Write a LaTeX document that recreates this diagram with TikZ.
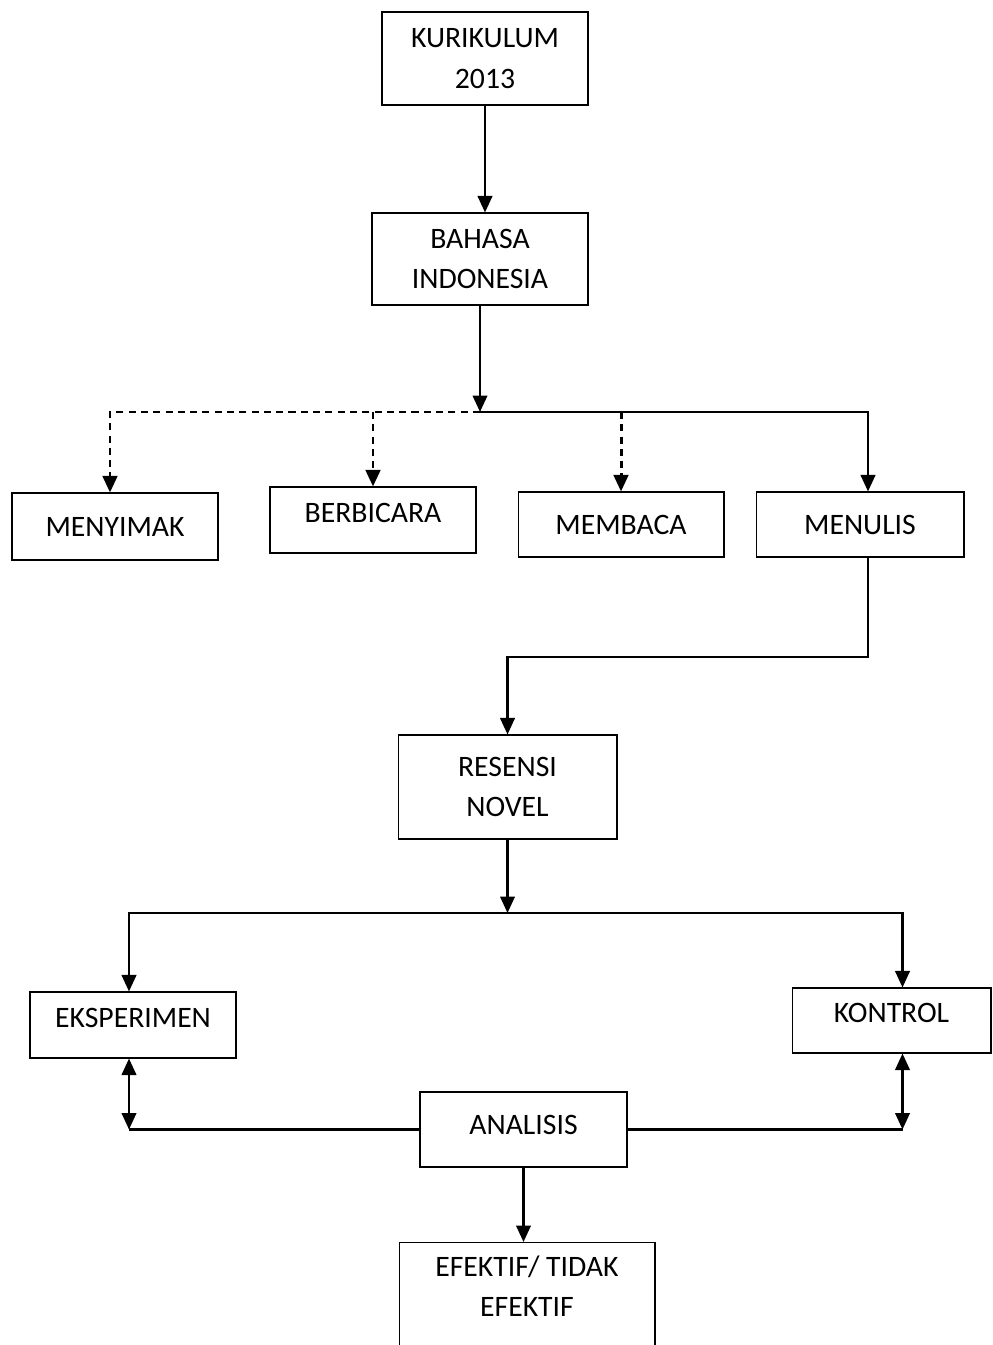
\documentclass[tikz,border=0pt]{standalone}
\usepackage{fontspec}
\setmainfont{Carlito}
\usetikzlibrary{arrows.meta,positioning}

\begin{document}
\begin{tikzpicture}[x=0.02cm,y=-0.02cm,
        every node/.style={font=\fontsize{16.9pt}{23pt}\selectfont,align=center},
        box/.style={draw,rectangle,line width=0.6pt,inner sep=0pt},
        arr/.style={line width=1.4pt,-{Triangle[length=0.33cm,width=0.29cm]}},
        dbl/.style={line width=1.4pt,{Triangle[length=0.33cm,width=0.29cm]}-{Triangle[length=0.33cm,width=0.29cm]}},
        dasharr/.style={arr,line width=1.7pt,dash pattern=on 4pt off 3pt},
        link/.style={line width=1.2pt}]
    \useasboundingbox (0,0) rectangle (992,1345);
    \node [box,minimum width=4.12cm,minimum height=1.86cm] (kurikulum) at (485,58.5) {KURIKULUM\\2013};
    \node [box,minimum width=4.32cm,minimum height=1.84cm] (bahasa) at (480,259) {BAHASA\\INDONESIA};
    \node [box,minimum width=4.12cm,minimum height=1.34cm] (menyimak) at (115,526.5) {MENYIMAK};
    \node [box,minimum width=4.12cm,minimum height=1.32cm,text depth=0.3cm] (berbicara) at (373,520) {BERBICARA};
    \node [box,minimum width=4.12cm,minimum height=1.30cm] (membaca) at (621,524.5) {MEMBACA};
    \node [box,minimum width=4.16cm,minimum height=1.30cm] (menulis) at (860,524.5) {MENULIS};
    \node [box,minimum width=4.38cm,minimum height=2.08cm] (resensi) at (507.5,787) {RESENSI\\NOVEL};
    \node [box,minimum width=4.12cm,minimum height=1.32cm,text depth=0.3cm] (eksperimen) at (133,1025) {EKSPERIMEN};
    \node [box,minimum width=3.98cm,minimum height=1.30cm,text depth=0.3cm] (kontrol) at (891.5,1020.5) {KONTROL};
    \node [box,minimum width=4.14cm,minimum height=1.50cm,text depth=0.2cm] (analisis) at (523.5,1129.5) {ANALISIS};
    \node [box,anchor=north,minimum width=5.12cm,minimum height=3cm] (efbox) at (527,1242) {};
    \node (eftext) at (527,1286) {EFEKTIF/ TIDAK\\EFEKTIF};

    \coordinate (split1) at (bahasa.south |- 0,412);
    \coordinate (turn) at (0,657);
    \coordinate (split2) at (resensi.south |- 0,913);

    \draw [arr] (kurikulum.south) -- (kurikulum.south |- bahasa.north);
    \draw [arr] (bahasa.south) -- (split1);
    \draw [dasharr] (split1) -| ([xshift=-0.1cm]menyimak.north);
    \draw [dasharr] (split1 -| berbicara.north) -- (berbicara.north);
    \draw [dasharr] (split1 -| membaca.north) -- (membaca.north);
    \draw [arr] (split1) -| ([xshift=0.16cm]menulis.north);
    \draw [arr] ([xshift=0.16cm]menulis.south) |- (turn -| resensi.north) -- (resensi.north);
    \draw [arr] (resensi.south) -- (split2);
    \draw [arr] (split2) -| ([xshift=-0.08cm]eksperimen.north);
    \draw [arr] (split2) -| ([xshift=0.22cm]kontrol.north);
    \draw [dbl] ([xshift=-0.08cm]eksperimen.south) -- ([xshift=-0.08cm]eksperimen.south |- analisis.west);
    \draw [link] ([xshift=-0.08cm]eksperimen.south |- analisis.west) -- (analisis.west);
    \draw [dbl] ([xshift=0.22cm]kontrol.south) -- ([xshift=0.22cm]kontrol.south |- analisis.east);
    \draw [link] (analisis.east) -- ([xshift=0.22cm]kontrol.south |- analisis.east);
    \draw [arr] (analisis.south) -- (analisis.south |- efbox.north);
\end{tikzpicture}
\end{document}
